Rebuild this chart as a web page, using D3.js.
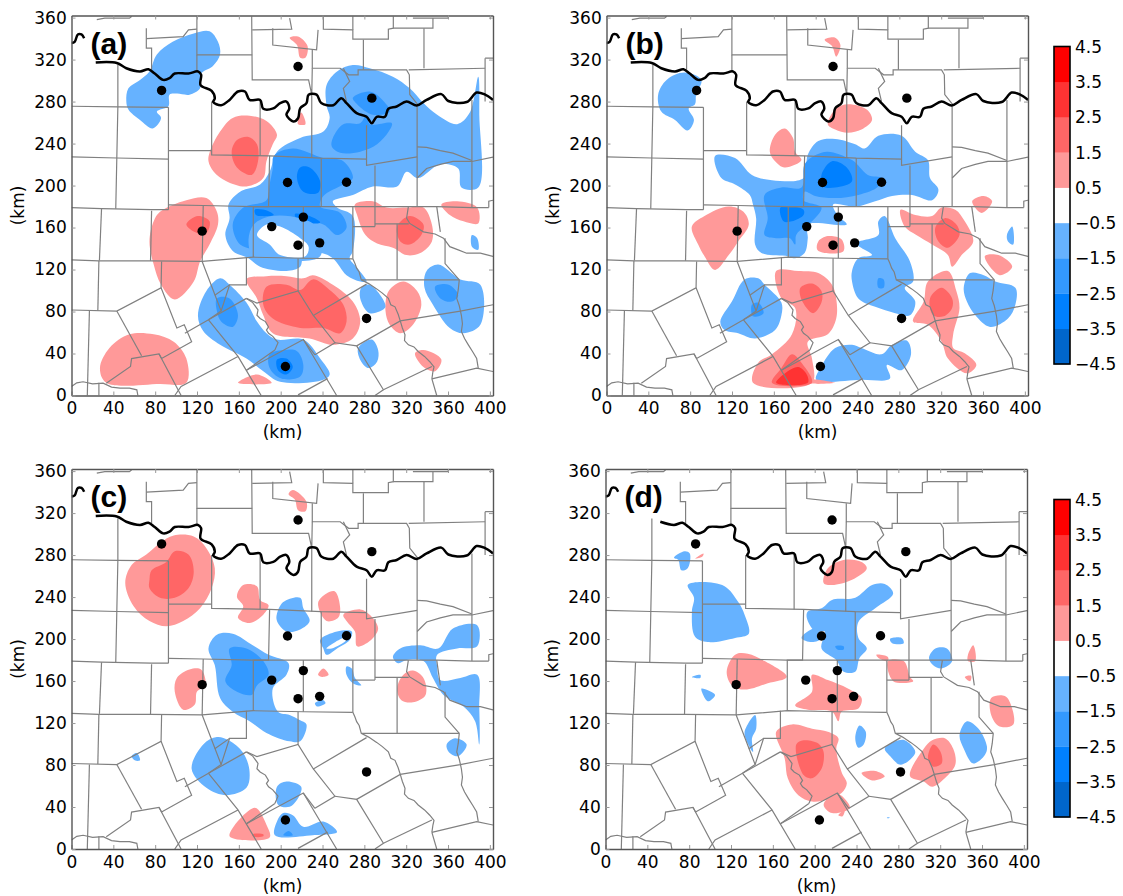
<!DOCTYPE html>
<html><head><meta charset="utf-8">
<script src="https://cdn.jsdelivr.net/npm/d3@7/dist/d3.min.js"></script>
<style>html,body{margin:0;background:#fff}svg{display:block}text{font-family:"DejaVu Sans",sans-serif;fill:#000}</style>
</head><body><div id="chart"></div>
<script>
const xTicks=[0,40,80,120,160,200,240,280,320,360,400];
const yTicks=[0,40,80,120,160,200,240,280,320,360];
const panelLabels=["(a)","(b)","(c)","(d)"];
const colorBounds=[-4.5,-3.5,-2.5,-1.5,-0.5,0.5,1.5,2.5,3.5,4.5];
const colorBoundLabels=["−4.5","−3.5","−2.5","−1.5","−0.5","0.5","1.5","2.5","3.5","4.5"];
const colorLevels=[-4,-3,-2,-1,0,1,2,3,4];
const stations=[[85.5,289],[124,155.7],[190,160],[215,311.7],[285,281.7],[205,201.8],[261,202],[220,169],[215,142.4],[235.5,144.6],[280,73],[203,27.5]];
const riverWest=[[0,334],[3,335],[6,342],[9.5,342],[12,338.5]];
const riverMain=[[23,315.5],[43,315],[52,310],[65,307],[73,309],[79,305],[87,299],[93,300.6],[98,305],[111,305],[120,307],[123,304],[122.5,294],[133,288.6],[136,281.7],[134.5,278],[142,275],[150,280],[158,288],[164.6,288],[169,280],[179,280],[182,271.6],[191.5,272],[198,277],[204,278.5],[206.7,272],[204,266],[210.5,259.6],[215,262.7],[217,272],[223,277],[225,285],[232.6,285],[237,277],[248.5,275],[256,281.7],[261,277],[270.6,267.5],[280,264],[285,258],[289.6,264],[297.5,264],[300.7,271.6],[308.6,273.8],[318,278.5],[327.6,274.7],[337,280],[351,285.5],[357.6,279],[375,278],[384.5,287],[392.5,285],[400,280]];
const countyLines=[
[[0,274],[44,273.5],[92,273]],[[44,313],[44,273.5],[43,225],[42,177]],[[0,226],[43,225],[92,224]],[[92,273],[92,176]],
[[0,178],[28.5,177],[76,176],[92,176]],[[92,180.6],[125,180],[172,179],[267,179],[347,179],[380,178],[396,178]],[[92,232],[133,232]],
[[133,278.5],[133,228],[188,227],[237,224.8],[280,224]],[[280,256],[280,218],[328,226]],[[179,278.5],[179,227]],[[228,285],[228,225]],
[[188,227],[187,179],[172.5,179],[172.5,131]],[[237,225],[237,179]],[[288,218],[288,160]],[[328,274],[328,179]],[[220,179],[220,130]],
[[125,180],[124,127]],[[76,175],[75,127.6]],[[28.5,177],[26.5,128]],[[0,128.5],[26,127.6],[75,127.6],[124,127],[172.5,131],[220,130],[267,129.5]],
[[267,179],[267,129.5]],[[267,160],[288,160]],[[288,162.6],[320,162.6]],[[309,162.6],[309,109.6]],[[26,127.6],[25,80.5]],
[[85.5,127],[85,102],[43,80],[0,81]],[[17,80],[15,0]],[[85,102],[100,64],[107,67],[114,51],[85.5,35],[83,39.5],[57,35],[56,27.5],[33,11.7]],
[[26,12],[26,0]],[[43,80],[66.5,37.6]],[[83,39.5],[104,0]],[[124,127],[142,80],[130,71.7],[107.6,59]],[[166,92],[130,71.7]],[[130,71.7],[158,37],[180,0]],
[[158,37],[104,8.5],[98,0]],[[142,80],[150,104.8],[166,104.8],[166,131]],[[136,95],[150,104.8]],[[166,92],[176,87.5],[215,99],[229.5,75.8],[280,105.5]],
[[215,130],[215,99]],[[166,92],[172,88],[177,81],[176,76],[179,73],[184,70],[187,65],[185,62],[187,59],[191,56],[196,50],[193,43]],[[193,43],[166,24]],
[[166,24],[220,53],[251.6,0]],[[220,53],[231,38.5]],[[229.5,75.8],[250,50],[231,38.5]],[[243,16],[215,0.6]],[[250,50],[270.6,47],[296,5.4],[288,0]],
[[270.6,47],[312,70.7],[369,80],[400,86]],[[296,5.4],[342,27.5]],[[342,15.8],[346.6,0]],[[342,15.8],[384.5,26],[400,22.7]],
[[267,129.5],[269,125],[270.6,120.6],[273,117],[275,109.6],[282,106],[289.6,101],[295,97],[300.7,92],[303,86],[307,84],[310,77],[312,70.7],[314,64],[316.5,57.5],[316,52],[319.7,48],[325,46],[329,41.7],[335,37],[340,32],[344,27],[343,22.7],[342,15.8]],
[[275,109.6],[368,109.6]],[[368,109.6],[367,100],[365.6,92],[368,85],[370,76],[371,68],[370,60.6],[373,54],[376.6,48],[381,41],[384.5,35],[386,26]],
[[319.7,179],[318,168],[321,163],[334,155],[345,153],[353,149],[359,141],[367,138],[375,134.8],[388,134.8],[400,131.7]],[[354.5,149],[354.5,125],[368,109.6]],
[[346.6,179],[350,155]],[[328,206],[337,215],[350,219],[362,221.7],[380,221.7],[400,225.8]],[[328,235.5],[337,235],[350,232],[362,229.6],[380,222.6]],
[[380,280],[380,178]],[[396,178],[396,184],[400,185]],[[392.5,319.6],[392.5,278.5]],[[392.5,319.6],[400,319.6]],
[[171,359],[171.5,299],[225,299],[228,285],[228.5,310]],[[119,359],[119,322.7],[171.5,322.7]],[[71,348],[71,329],[76,329],[76,308.5]],
[[71,338],[106,340],[111,346.4],[119,347]],[[119,322.7],[119,307]],[[191,348],[191,332],[232.6,327.5],[234,346.4]],[[171.5,346.4],[209,347],[207,357.5]],
[[239,359],[239,347],[267,346.4],[267,337.6],[300.7,337.6],[300.7,347],[305.4,348],[305.4,359]],[[267,359],[267,346.4]],[[277,337],[277,308.5]],
[[228.5,327.5],[228.5,310],[255,310],[263,303.8],[272,303.8],[272,308.5],[318,308.5],[320.6,303.8],[321,285],[329,275]],[[320,308.5],[392.5,310]],
[[334.5,348],[334.5,310]],[[305.4,348],[343,348],[343,357.5]],[[324,357.5],[357.6,357.5],[357.6,359]],[[258,310],[264,297.5],[258,291],[261,278.5]],
[[24,356],[31.6,357.5],[55,357.5],[57,359]],[[0,8.5],[5,12],[11,13],[20,11],[30,11.7],[38,8],[46,7],[55,7],[62,5.4],[63,0]]
];
// Each entry: [contour level, outline in km]; later entries paint over earlier ones.
const fieldA=[
[-1,[[52,279],[54,291],[65,299],[74,307],[81,323],[96,335],[116,343],[131,345],[139,335],[141,323],[134,312],[123,305],[122,291],[112,285],[100,286],[93,285],[92,274],[81,269],[85,263],[77,253],[65,261],[54,271]]],
[-1,[[242,275],[242,294],[252,307],[267,313],[283,310],[305,302],[321,291],[334,277],[347,266],[366,257],[378,268],[386,302],[387,266],[386,197],[370,197],[367,215],[350,219],[329,206],[318,212],[309,198],[286,198],[267,190],[248,184],[252,178],[267,170],[267,137],[264,130],[271,121],[280,108],[274,108],[261,114],[248,130],[236,135],[220,130],[217,122],[204,118],[179,122],[168,130],[153,137],[146,152],[150,168],[149,181],[160,193],[179,200],[188,212],[195,231],[217,244],[239,250],[245,263]]],
[-2,[[192,227],[210,234],[239,225],[258,222],[267,206],[258,200],[239,189],[236,179],[255,173],[261,159],[252,152],[239,162],[217,165],[191,168],[185,165],[176,159],[174,140],[160,143],[153,162],[163,178],[185,185],[188,200],[191,215]]],
[-3,[[217,216],[226,216],[236,203],[234,192],[220,193],[214,206]]],
[-3,[[174,176],[186,175],[192,171],[180,170],[175,171]]],
[-3,[[212,172],[226,170],[236,164],[226,163],[214,167]]],
[-1,[[173,162],[190,170],[217,168],[232,160],[236,132],[200,128],[172,133],[168,148]]],
[0,[[176,152],[185,162],[198,160],[217,149],[225,141],[222,132],[198,133],[188,143]]],
[-2,[[248,244],[258,257],[274,258],[280,266],[283,257],[304,258],[301,250],[290,238],[274,231],[255,230],[247,236]]],
[-2,[[267,282],[283,288],[296,279],[302,269],[286,266],[271,276]]],
[1,[[131,230],[141,250],[153,263],[169,265],[185,260],[195,247],[191,238],[185,222],[182,206],[166,198],[147,203],[135,212],[130,222]]],
[2,[[152,231],[157,242],[168,245],[176,238],[177,222],[171,209],[157,216]]],
[1,[[78,165],[84,174],[109,185],[128,187],[138,174],[139,162],[131,143],[122,127],[116,108],[98,91],[85,105],[78,124],[74,146]]],
[2,[[109,162],[120,170],[131,165],[128,154],[119,154]]],
[1,[[166,110],[185,113],[204,113],[220,111],[229,114],[248,105],[267,89],[274,70],[267,54],[248,48],[226,54],[191,59],[182,76],[176,92]]],
[2,[[185,103],[204,105],[217,100],[229,110],[245,100],[258,86],[261,70],[255,59],[239,64],[217,64],[191,73],[182,86]]],
[1,[[27,26],[36,45],[55,58],[78,58],[97,51],[109,35],[109,12],[84,11],[33,12]]],
[1,[[158,12],[176,20],[190,12]]],
[1,[[269,181],[286,184],[299,178],[318,178],[334,178],[342,162],[342,146],[331,135],[318,133],[305,140],[290,144],[279,152],[271,171]]],
[2,[[309,160],[321,170],[334,162],[332,152],[321,143],[312,146]]],
[1,[[351,181],[366,184],[385,178],[386,163],[372,165],[359,171]]],
[1,[[301,99],[315,108],[328,99],[332,86],[324,67],[312,59],[302,67],[298,80]]],
[1,[[326,40],[334,43],[351,34],[345,23],[334,27]]],
[1,[[207,339],[215,340],[224,331],[222,320],[217,320],[214,332]]],
[1,[[215,261],[218,268],[222,257],[215,257]]],
[-1,[[141,111],[150,105],[166,88],[176,70],[185,59],[195,53],[220,53],[236,35],[245,20],[239,15],[198,13],[182,23],[166,35],[141,48],[125,61],[120,76],[128,99]]],
[-2,[[138,92],[150,92],[158,76],[153,65],[142,70],[138,80]]],
[-2,[[188,39],[201,43],[214,42],[220,29],[217,18],[199,16],[188,26]]],
[-3,[[195,34],[204,35],[210,27],[204,20],[196,24]]],
[-1,[[337,118],[348,124],[369,110],[388,105],[388,67],[372,59],[359,64],[343,86],[335,102]]],
[-2,[[345,103],[358,105],[367,95],[361,89],[350,92]]],
[-1,[[272,45],[285,53],[291,43],[290,32],[282,26],[275,32]]],
[-1,[[275,102],[283,105],[298,84],[283,78],[274,92]]],
[-1,[[380,152],[385,149],[386,138],[380,141]]]
];
const fieldB=[
[-1,[[49,285],[57,299],[74,306],[90,299],[85,285],[84,276],[78,272],[83,261],[77,251],[65,261],[52,269]]],
[1,[[207,337],[217,339],[222,332],[218,321],[214,331]]],
[1,[[210,257],[218,272],[229,276],[247,271],[252,261],[242,252],[229,249],[217,252]]],
[1,[[155,231],[160,247],[169,253],[177,244],[179,231],[185,223],[169,216],[160,222]]],
[-1,[[103,227],[122,225],[138,209],[157,204],[187,206],[191,228],[201,241],[217,243],[236,238],[245,234],[258,246],[280,246],[293,231],[305,223],[307,206],[315,195],[309,185],[290,190],[271,189],[255,184],[237,179],[215,181],[220,170],[228,162],[191,162],[191,149],[188,135],[179,130],[172,132],[147,135],[141,143],[142,168],[139,181],[136,190],[122,200],[109,206]]],
[-2,[[188,219],[199,228],[210,231],[233,223],[248,209],[261,206],[258,198],[239,190],[217,187],[198,189],[188,193],[187,185],[204,178],[195,165],[188,160],[180,152],[179,143],[174,149],[161,149],[150,152],[153,168],[150,190],[166,197],[185,197]]],
[-3,[[165,178],[174,179],[187,176],[187,171],[176,165],[168,165]]],
[-3,[[204,209],[214,222],[228,216],[233,203],[217,197],[206,198]]],
[-1,[[233,118],[239,130],[252,133],[237,144],[258,152],[258,165],[264,170],[274,149],[288,127],[291,108],[283,102],[293,89],[288,76],[274,78],[255,84],[239,92],[233,108]]],
[-2,[[258,111],[263,110],[263,102],[258,102]]],
[-1,[[108,70],[119,89],[131,110],[144,111],[150,105],[166,88],[166,76],[160,62],[141,54],[125,59],[112,62]]],
[-2,[[138,86],[144,88],[149,78],[139,75]]],
[-1,[[339,102],[345,116],[358,114],[369,108],[388,102],[388,86],[381,73],[364,65],[350,76],[342,89]]],
[-1,[[199,15],[203,26],[217,45],[233,48],[242,45],[261,39],[271,48],[285,52],[289,39],[280,24],[266,29],[269,16],[242,15]]],
[-1,[[380,152],[385,160],[386,143],[381,146]]],
[1,[[81,160],[93,170],[116,179],[130,174],[135,162],[125,146],[116,133],[103,119],[93,132],[87,143]]],
[1,[[201,146],[210,151],[223,148],[225,137],[207,135],[200,138]]],
[1,[[279,176],[293,171],[309,170],[318,178],[331,176],[340,165],[348,146],[337,133],[328,122],[324,133],[309,143],[294,152],[283,160]]],
[2,[[312,159],[321,168],[332,162],[335,152],[324,140],[315,146]]],
[1,[[347,184],[358,189],[366,184],[356,173]]],
[1,[[359,132],[372,133],[385,122],[373,114]]],
[1,[[291,70],[301,89],[305,108],[324,118],[332,99],[335,83],[329,58],[329,45],[340,40],[351,29],[342,21],[324,35],[318,51],[305,67]]],
[2,[[307,92],[318,102],[328,92],[328,83],[320,75],[310,76]]],
[1,[[139,12],[144,31],[157,39],[176,58],[179,83],[166,92],[161,118],[182,118],[201,116],[214,105],[218,92],[218,73],[210,58],[191,51],[195,35],[195,12]]],
[1,[[192,15],[217,12],[192,12]]],
[2,[[184,102],[195,106],[204,99],[204,88],[196,78],[185,91]]],
[2,[[157,12],[166,26],[176,39],[185,31],[195,12]]],
[3,[[161,12],[172,23],[182,27],[190,20],[191,12]]]
];
const fieldC=[
[1,[[51,252],[57,269],[71,279],[84,290],[97,297],[116,296],[128,285],[136,266],[133,247],[122,228],[106,216],[90,211],[74,216],[59,230]]],
[2,[[74,255],[76,264],[90,272],[98,282],[111,279],[116,263],[111,247],[98,238],[84,238],[74,247]]],
[1,[[206,336],[210,340],[223,329],[222,320],[215,321],[212,331]]],
[1,[[157,239],[163,250],[176,249],[179,236],[187,231],[182,222],[169,214],[158,219],[163,230]]],
[-1,[[195,223],[201,234],[217,238],[220,228],[226,216],[217,208],[204,206],[195,216]]],
[1,[[234,233],[242,242],[250,244],[255,228],[253,219],[242,216]]],
[1,[[258,222],[274,227],[283,222],[291,209],[283,197],[271,192],[269,206],[261,216]]],
[-1,[[236,198],[252,206],[266,206],[264,198],[252,190],[242,184],[239,190]]],
[0,[[242,190],[261,201],[261,198],[247,190]]],
[-1,[[130,190],[138,203],[153,204],[172,193],[187,184],[206,176],[204,165],[191,152],[196,130],[207,127],[217,122],[223,118],[217,102],[207,102],[185,110],[169,121],[153,130],[141,143],[136,174]]],
[-2,[[150,190],[166,190],[182,178],[187,165],[176,155],[171,146],[157,149],[146,159],[152,174]]],
[-1,[[305,182],[312,190],[331,193],[348,190],[362,209],[385,212],[385,192],[366,190],[347,184],[347,173],[350,160],[369,162],[385,165],[387,133],[387,99],[383,121],[372,135],[353,146],[343,162],[334,178],[318,179],[310,176]]],
[-1,[[356,99],[364,105],[375,99],[367,88],[358,92]]],
[1,[[309,152],[315,165],[324,169],[334,162],[336,146],[324,139],[313,141]]],
[1,[[100,162],[112,170],[123,170],[127,155],[119,149],[117,137],[106,132],[98,149]]],
[1,[[234,165],[239,171],[244,165],[238,163]]],
[-1,[[261,173],[266,171],[269,162],[275,155],[267,157],[261,165]]],
[-1,[[231,138],[239,141],[241,138],[233,135]]],
[-1,[[114,76],[125,99],[138,106],[149,103],[163,91],[169,73],[166,58],[147,51],[128,58]]],
[-1,[[195,59],[204,64],[218,59],[215,48],[207,40],[196,42]]],
[-1,[[193,13],[195,26],[201,34],[210,32],[220,21],[239,26],[252,16],[229,13]]],
[-2,[[201,13],[206,17],[210,13]]],
[1,[[150,12],[174,39],[185,23],[188,11]]],
[2,[[172,14],[182,14],[182,12],[172,12]]],
[-1,[[57,88],[62,91],[65,84],[60,84]]]
];
const fieldD=[
[-1,[[65,276],[75,282],[80,280],[78,266],[72,264],[69,274]]],
[1,[[85,275],[93,280],[92,277]]],
[-1,[[78,250],[91,253],[113,249],[126,234],[132,222],[136,204],[123,200],[97,196],[85,201],[82,225],[84,238]]],
[1,[[207,252],[211,266],[227,274],[243,272],[248,266],[234,255],[215,250]]],
[-1,[[205,228],[215,236],[237,238],[253,250],[265,251],[273,242],[256,228],[240,215],[240,200],[248,190],[241,181],[237,168],[226,168],[219,179],[205,190],[208,206],[199,206],[191,219],[192,225]]],
[-2,[[218,192],[226,192],[226,189],[220,189]]],
[-1,[[270,199],[281,200],[283,195],[272,195]]],
[-1,[[186,200],[199,209],[205,200],[196,196]]],
[1,[[257,184],[268,182],[268,178],[259,181]]],
[1,[[268,178],[283,178],[289,163],[292,159],[273,159]]],
[-1,[[307,181],[313,190],[324,190],[329,178],[319,171],[311,174]]],
[1,[[344,184],[349,193],[351,178],[344,178]]],
[1,[[341,163],[347,164],[346,159]]],
[1,[[366,143],[379,145],[385,136],[387,118],[374,116],[366,127]]],
[1,[[115,168],[123,184],[135,185],[151,178],[172,163],[154,157],[132,151],[120,155]]],
[1,[[180,136],[196,149],[196,165],[211,160],[230,152],[243,143],[240,133],[224,130],[221,121],[215,130],[192,132]]],
[-1,[[82,163],[90,165],[90,162]]],
[-1,[[91,152],[104,146],[97,140]]],
[-1,[[132,111],[142,127],[143,114],[139,105],[140,92],[134,102]]],
[1,[[162,111],[177,118],[196,114],[211,111],[221,105],[219,95],[224,73],[229,62],[224,53],[211,47],[196,45],[183,51],[173,67],[170,86]]],
[2,[[181,99],[188,103],[202,100],[207,92],[205,76],[196,67],[188,70]]],
[1,[[207,42],[219,53],[232,39],[215,34]]],
[1,[[221,32],[227,37],[225,31]]],
[-1,[[237,105],[241,117],[247,111],[245,99],[240,96]]],
[-1,[[265,95],[275,102],[284,103],[294,92],[287,83],[279,80],[270,88]]],
[1,[[243,72],[256,74],[265,69],[253,65]]],
[1,[[289,69],[302,95],[310,103],[322,105],[330,95],[332,80],[322,67],[310,59],[302,64]]],
[2,[[306,86],[311,99],[318,92],[319,81],[311,78]]],
[-1,[[336,108],[343,121],[354,114],[362,97],[360,89],[349,81],[340,95]]],
[-1,[[267,30],[270,30],[268,29]]]
];
const fields=[fieldA,fieldB,fieldC,fieldD];

const levelColor=d3.scaleOrdinal().domain(colorLevels).range(["#0066cc","#0080ff","#3399ff","#66b2ff","#ffffff","#ff9999","#ff6666","#ff3333","#ff0000"]);
const svg=d3.select("#chart").append("svg").attr("width",1123).attr("height",896);
const panelW=421.5,panelH=380;
const layout=[{l:71.5,t:15.5},{l:606.5,t:15.5},{l:71.5,t:469},{l:605.5,t:469}];
const x=d3.scaleLinear().domain([0,403]).range([0,panelW]);
const y=d3.scaleLinear().domain([0,362]).range([panelH,0]);
// The outlines above were read against a slightly tighter grid; these factors put them on the plotted axes.
const readX=1.0075,readY=1.0056;
const px=d=>x(d[0]*readX),py=d=>y(d[1]*readY);
const blob=d3.line().x(px).y(py).curve(d3.curveCatmullRomClosed.alpha(0.5));
const poly=d3.line().x(px).y(py);
const smooth=d3.line().x(px).y(py).curve(d3.curveCatmullRom.alpha(0.5));
layout.forEach((p,i)=>{
  const g=svg.append("g").attr("transform",`translate(${p.l},${p.t})`);
  const clipId="clip"+i;
  g.append("clipPath").attr("id",clipId).append("rect").attr("width",panelW).attr("height",panelH);
  const plot=g.append("g").attr("clip-path",`url(#${clipId})`);
  plot.selectAll("path.f").data(fields[i]).join("path").attr("class","f")
    .attr("d",d=>blob(d[1])).attr("fill",d=>levelColor(d[0]));
  plot.selectAll("path.c").data(countyLines).join("path").attr("class","c")
    .attr("d",poly).attr("fill","none").attr("stroke","#808080").attr("stroke-width",1.2);
  plot.append("path").attr("d",smooth(riverWest)).attr("fill","none").attr("stroke","#000").attr("stroke-width",2.5);
  plot.append("path").attr("d",smooth(i===3?riverMain.slice(2):riverMain)).attr("fill","none").attr("stroke","#000").attr("stroke-width",2.5);
  plot.selectAll("circle").data(stations).join("circle")
    .attr("cx",px).attr("cy",py).attr("r",4.7).attr("fill","#000");
  g.append("text").attr("x",19).attr("y",38).attr("font-size",30).attr("font-weight","bold")
    .style("font-family","'Liberation Sans',Arial,sans-serif").text(panelLabels[i]);
  const inward=4;
  const style=a=>{a.selectAll("text").attr("font-size",17);a.select(".domain").attr("stroke","#555").attr("stroke-width",1.4);a.selectAll("line").attr("stroke","#999");};
  g.append("g").attr("transform",`translate(0,${panelH})`).call(d3.axisBottom(x).tickValues(xTicks).tickSize(-inward).tickSizeOuter(0).tickPadding(6.5)).call(style);
  g.append("g").call(d3.axisTop(x).tickValues(xTicks).tickSize(-inward).tickSizeOuter(0).tickFormat("")).call(style);
  g.append("g").call(d3.axisLeft(y).tickValues(yTicks).tickSize(-inward).tickSizeOuter(0).tickPadding(4.8)).call(style);
  g.append("g").attr("transform",`translate(${panelW},0)`).call(d3.axisRight(y).tickValues(yTicks).tickSize(-inward).tickSizeOuter(0).tickFormat("")).call(style);
  g.append("text").attr("x",211).attr("y",panelH+42.5).attr("text-anchor","middle").attr("font-size",17).text("(km)");
  g.append("text").attr("transform",`translate(-47.5,${panelH/2}) rotate(-90)`).attr("text-anchor","middle").attr("font-size",17).text("(km)");
});
[{t:46.5},{t:499.5}].forEach(b=>{
  const h=317.5,cy=d3.scaleLinear().domain([-4.5,4.5]).range([h,0]);
  const g=svg.append("g").attr("transform",`translate(1054,${b.t})`);
  g.selectAll("rect").data(colorLevels).join("rect")
    .attr("x",0).attr("width",16).attr("y",d=>cy(d+0.5)).attr("height",d=>cy(d-0.5)-cy(d+0.5)+0.3).attr("fill",d=>levelColor(d));
  g.append("rect").attr("width",16).attr("height",h).attr("fill","none").attr("stroke","#000").attr("stroke-width",1.6);
  g.selectAll("text").data(colorBounds).join("text").attr("x",21).attr("y",d=>cy(d)+6.2)
    .attr("font-size",17).text((d,i)=>colorBoundLabels[i]);
});
</script></body></html>
